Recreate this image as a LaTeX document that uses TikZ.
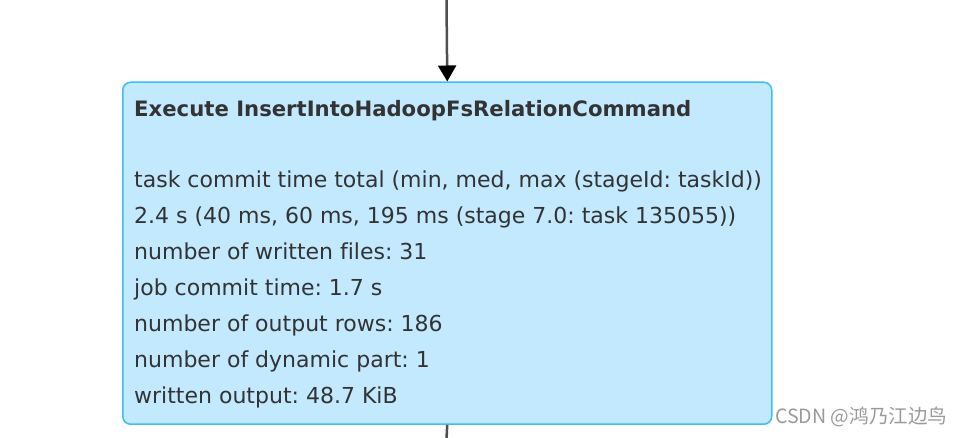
\documentclass[tikz,border=0pt]{standalone}
\usepackage{fontspec}
\setmainfont[Ligatures=NoCommon]{DejaVu Sans}
\newfontfamily\cjkwm{Noto Sans CJK SC}
\usetikzlibrary{arrows.meta}
\definecolor{boxfill}{HTML}{C2E9FE}
\definecolor{boxedge}{HTML}{3CBEF5}
\definecolor{txt}{HTML}{333333}
\definecolor{edgegray}{HTML}{4F4F4F}
\definecolor{wmgray}{HTML}{9A9A9A}
\frenchspacing
\tikzset{
  opbox/.style={draw=boxedge, fill=boxfill, line width=1.5pt, rounded corners=8pt,
    minimum width=649pt, minimum height=342pt, inner sep=0pt},
  bodytext/.style={anchor=base west, inner sep=0pt, text=txt, font=\fontsize{22}{26}\selectfont},
  titletext/.style={anchor=base west, inner sep=0pt, text=txt, font=\fontsize{21.2}{26}\selectfont\bfseries},
  flow/.style={draw=edgegray, line width=2.5pt},
  wm/.style={anchor=base west, inner sep=0pt, text=wmgray, font=\cjkwm\fontsize{19.6}{22}\selectfont}
}
\begin{document}
\begin{tikzpicture}[x=1pt,y=-1pt]
\useasboundingbox (0,0) rectangle (962,438);
\node[opbox, anchor=north west] (box) at (122,81.5) {};
\coordinate (src) at (446.5,0);
\coordinate (dst) at (446.5,438);
\draw[flow, -{Triangle[width=18pt,length=16pt,color=black]}] (src) -- (box.north);
\draw[flow] (box.south) -- (dst);
\node[titletext] (t0) at (134,117) {Execute InsertIntoHadoopFsRelationCommand};
\node[bodytext] (l1) at (134,188) {task commit time total (min, med, max (stageId: taskId))};
\node[bodytext] (l2) at (134,224) {2.4 s (40 ms, 60 ms, 195 ms (stage 7.0: task 135055))};
\node[bodytext] (l3) at (134,260) {number of written files: 31};
\node[bodytext] (l4) at (134,296) {job commit time: 1.7 s};
\node[bodytext] (l5) at (134,332) {number of output rows: 186};
\node[bodytext] (l6) at (134,368) {number of dynamic part: 1};
\node[bodytext] (l7) at (134,404) {written output: 48.7 KiB};
\node[wm] (wmk) at (775,424) {CSDN @鸿乃江边鸟};
\end{tikzpicture}
\end{document}
